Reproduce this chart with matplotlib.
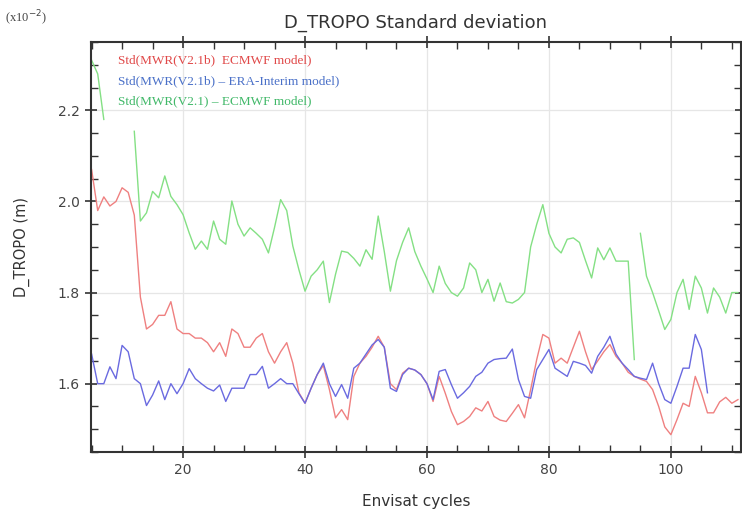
import numpy as np
import matplotlib
matplotlib.use("Agg")
import matplotlib.pyplot as plt
from matplotlib.ticker import MultipleLocator

# ---------------- data (values in units of 1e-2 m) ----------------
red_cycles = list(range(5, 112))
red_values = [2.07, 1.98, 2.01, 1.99, 2.00, 2.03, 2.02, 1.97, 1.79, 1.72,
              1.73, 1.75, 1.75, 1.78, 1.72, 1.71, 1.71, 1.70, 1.70, 1.69,
              1.67, 1.69, 1.66, 1.72, 1.71, 1.68, 1.68, 1.70, 1.71, 1.67,
              1.645, 1.67, 1.69, 1.645, 1.58, 1.557, 1.59, 1.62, 1.64, 1.587,
              1.525, 1.543, 1.521, 1.616, 1.645, 1.66, 1.68, 1.704, 1.68, 1.60,
              1.587, 1.623, 1.634, 1.63, 1.62, 1.60, 1.561, 1.616, 1.579, 1.539,
              1.51, 1.517, 1.528, 1.547, 1.54, 1.561, 1.528, 1.52, 1.517, 1.535,
              1.554, 1.525, 1.587, 1.653, 1.708, 1.70, 1.645, 1.656, 1.645, 1.68,
              1.715, 1.67, 1.631, 1.65, 1.67, 1.686, 1.66, 1.645, 1.625, 1.616,
              1.61, 1.605, 1.587, 1.55, 1.505, 1.488, 1.521, 1.557, 1.55, 1.616,
              1.58, 1.536, 1.536, 1.56, 1.57, 1.557, 1.565]

blue_cycles = list(range(5, 107))
blue_values = [1.665, 1.60, 1.60, 1.637, 1.611, 1.684, 1.67, 1.611, 1.60, 1.552,
               1.575, 1.606, 1.565, 1.60, 1.578, 1.60, 1.633, 1.611, 1.60, 1.59,
               1.584, 1.597, 1.561, 1.59, 1.59, 1.59, 1.62, 1.62, 1.638, 1.59,
               1.60, 1.611, 1.60, 1.60, 1.578, 1.557, 1.59, 1.62, 1.645, 1.60,
               1.572, 1.598, 1.568, 1.634, 1.645, 1.665, 1.685, 1.697, 1.68, 1.59,
               1.583, 1.62, 1.634, 1.63, 1.62, 1.60, 1.565, 1.627, 1.631, 1.598,
               1.568, 1.58, 1.594, 1.616, 1.625, 1.645, 1.653, 1.655, 1.656, 1.676,
               1.609, 1.572, 1.568, 1.631, 1.653, 1.675, 1.634, 1.625, 1.616, 1.649,
               1.645, 1.64, 1.623, 1.66, 1.68, 1.704, 1.665, 1.645, 1.631, 1.616,
               1.612, 1.609, 1.645, 1.60, 1.565, 1.557, 1.594, 1.634, 1.634, 1.708,
               1.675, 1.58]

# green has gaps (None = no data)
green_cycles = [5, 6, 7, 8] + list(range(12, 95)) + [94.5] + list(range(95, 112))
green_values = [2.31, 2.28, 2.18, None,
                2.154, 1.957, 1.975, 2.022, 2.008, 2.056, 2.011, 1.993, 1.971, 1.931,
                1.895, 1.913, 1.895, 1.957, 1.917, 1.906, 2.001, 1.95, 1.924, 1.942,
                1.93, 1.917, 1.887, 1.943, 2.004, 1.98, 1.902, 1.85, 1.803, 1.836,
                1.85, 1.869, 1.778, 1.84, 1.891, 1.888, 1.875, 1.858, 1.894, 1.873,
                1.968, 1.89, 1.803, 1.87, 1.91, 1.942, 1.89, 1.858, 1.83, 1.80,
                1.858, 1.82, 1.80, 1.792, 1.81, 1.865, 1.85, 1.80, 1.829, 1.781,
                1.821, 1.78, 1.777, 1.785, 1.80, 1.90, 1.95, 1.993, 1.93, 1.90,
                1.887, 1.917, 1.92, 1.91, 1.87, 1.832, 1.898, 1.872, 1.898, 1.869,
                1.869, 1.869, 1.653,
                None,
                1.93, 1.836, 1.80, 1.76, 1.719, 1.741, 1.80, 1.829, 1.763, 1.836,
                1.81, 1.755, 1.81, 1.79, 1.755, 1.80, 1.80]

labels = ["Std(MWR(V2.1b)  ECMWF model)",
          "Std(MWR(V2.1b) \u2013 ERA-Interim model)",
          "Std(MWR(V2.1) \u2013 ECMWF model)"]
line_colors = ["#ef8080", "#6a6ae0", "#84e084"]
text_colors = ["#e04848", "#4a70c8", "#40b868"]

# ---------------- figure ----------------
fig = plt.figure(figsize=(7.42, 5.09), dpi=100)
ax = fig.add_axes([91 / 742, 57 / 509, 650 / 742, 410 / 509])

def arr(v):
    return np.array([np.nan if x is None else x for x in v], dtype=float)

ax.plot(red_cycles, arr(red_values), color=line_colors[0], lw=1.0)
ax.plot(blue_cycles, arr(blue_values), color=line_colors[1], lw=1.0)
ax.plot(green_cycles, arr(green_values), color=line_colors[2], lw=1.0)

ax.set_xlim(4.9, 111.5)
ax.set_ylim(1.45, 2.35)
ax.xaxis.set_major_locator(MultipleLocator(20))
ax.xaxis.set_minor_locator(MultipleLocator(5))
ax.yaxis.set_major_locator(MultipleLocator(0.2))
ax.yaxis.set_minor_locator(MultipleLocator(0.05))
ax.yaxis.set_major_formatter(matplotlib.ticker.FormatStrFormatter("%.1f"))

ax.grid(True, which="major", color="#e6e6e6", lw=0.9)
ax.set_axisbelow(True)
ax.tick_params(which="major", direction="inout", length=9, width=1.2,
               color="#333333", labelsize=10, labelcolor="#444444",
               top=True, right=True)
ax.tick_params(which="minor", direction="in", length=5, width=1.0,
               color="#333333", top=True, right=True)
for s in ax.spines.values():
    s.set_color("#333333")
    s.set_linewidth(1.5)

ax.set_title("D_TROPO Standard deviation", fontsize=13, color="#333333", pad=10)
ax.set_xlabel("Envisat cycles", fontsize=11, color="#333333", labelpad=12)
ax.set_ylabel("D_TROPO (m)", fontsize=10.5, color="#333333", labelpad=20)

fig.text(5 / 742, 1 - 18 / 509, "(x10$^{-2}$)", fontsize=9, color="#444444",
         va="center", ha="left", family="Liberation Serif")

for i, (lab, col) in enumerate(zip(labels, text_colors)):
    ax.text(0.042, 0.955 - i * 0.05, lab, transform=ax.transAxes,
            color=col, fontsize=9.5, family="Liberation Serif", va="center", ha="left")

fig.savefig("out.png", dpi=100)
